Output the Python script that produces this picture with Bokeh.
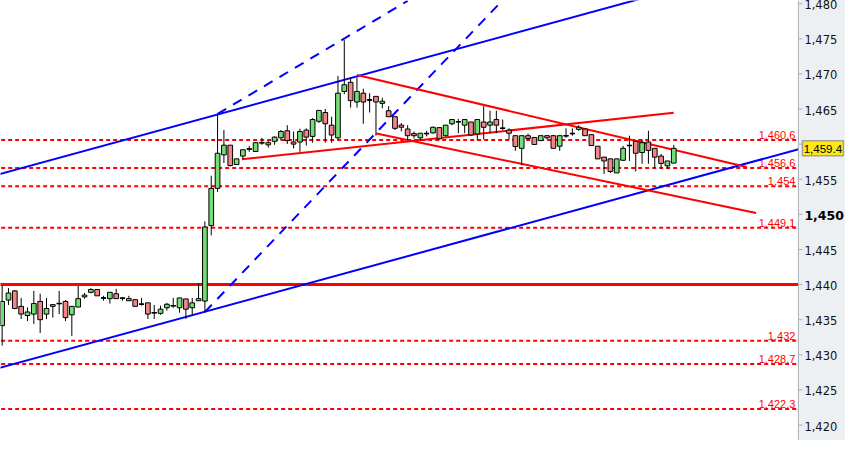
from bokeh.plotting import figure
from bokeh.models import Range1d, Span, ColumnDataSource
from bokeh.embed import file_html
from bokeh.resources import INLINE
from bokeh.core.properties import value

# ---------------- data ----------------
opens = [1434.15, 1437.8, 1439.1, 1436.9, 1435.6, 1435.8, 1437.6, 1435.8, 1436.9, 1437.3,
         1437.6, 1435.7, 1436.8, 1438.25, 1438.9, 1439.3, 1438.1, 1438.0, 1438.7, 1438.06,
         1437.7, 1437.85, 1437.2, 1437.4, 1436.0, 1435.9, 1436.7, 1437.0, 1436.7, 1437.96,
         1436.7, 1437.7, 1437.65, 1448.4, 1453.7, 1458.47, 1459.85, 1457.1, 1458.3, 1459.3,
         1458.95, 1460.2, 1459.9, 1460.4, 1460.9, 1461.9, 1460.3, 1460.3, 1462.0, 1461.1,
         1463.25, 1464.5, 1462.7, 1460.9, 1467.5, 1468.8, 1466.0, 1467.25, 1466.3, 1466.8,
         1465.8, 1464.75, 1463.9, 1462.7, 1462.15, 1461.5, 1460.9, 1461.5, 1461.6, 1462.35,
         1461.2, 1462.9, 1463.2, 1462.7, 1463.15, 1461.45, 1463.15, 1462.7, 1463.5, 1462.25,
         1462.0, 1461.2, 1459.4, 1461.2, 1460.95, 1460.5, 1461.2, 1461.2, 1459.7, 1461.2,
         1461.5, 1462.1, 1462.15, 1461.35, 1459.7, 1458.15, 1457.9, 1455.9, 1457.7, 1459.8,
         1460.4, 1458.8, 1460.3, 1459.4, 1458.3, 1456.9, 1457.3]
highs = [1439.9, 1439.5, 1439.2, 1438.1, 1436.75, 1439.1, 1438.7, 1438.1, 1437.15, 1439.1,
         1437.8, 1436.9, 1439.8, 1438.8, 1439.5, 1439.3, 1438.4, 1438.9, 1439.4, 1438.2,
         1438.4, 1437.85, 1438.1, 1437.4, 1437.1, 1437.0, 1437.4, 1438.1, 1438.1, 1437.96,
         1438.1, 1440.2, 1449.0, 1455.5, 1464.3, 1462.0, 1459.85, 1457.9, 1459.2, 1459.75,
         1460.2, 1460.9, 1460.5, 1461.1, 1462.0, 1462.7, 1461.8, 1462.2, 1462.25, 1463.7,
         1464.8, 1465.0, 1463.9, 1469.7, 1474.8, 1469.5, 1469.5, 1467.9, 1467.25, 1466.8,
         1466.6, 1465.4, 1463.9, 1463.0, 1462.7, 1461.8, 1461.55, 1461.9, 1462.5, 1462.35,
         1462.7, 1463.5, 1463.6, 1463.5, 1463.15, 1463.5, 1465.4, 1464.75, 1464.75, 1463.5,
         1462.25, 1461.2, 1461.2, 1461.5, 1460.95, 1461.2, 1461.3, 1461.3, 1461.2, 1462.25,
         1462.25, 1462.7, 1462.25, 1461.35, 1459.7, 1458.15, 1457.9, 1457.9, 1459.75, 1461.2,
         1460.4, 1460.65, 1461.9, 1459.4, 1458.6, 1457.6, 1459.9]
lows = [1431.3, 1437.1, 1436.5, 1435.1, 1434.8, 1434.4, 1433.1, 1435.1, 1435.3, 1435.8,
        1434.8, 1432.7, 1436.8, 1438.0, 1438.75, 1438.4, 1437.7, 1437.3, 1438.0, 1437.7,
        1437.7, 1436.9, 1437.0, 1435.1, 1435.1, 1435.7, 1436.3, 1436.7, 1436.0, 1435.1,
        1435.7, 1437.7, 1436.1, 1447.0, 1453.2, 1457.3, 1456.8, 1457.1, 1457.9, 1458.9,
        1458.95, 1459.9, 1459.5, 1459.9, 1460.5, 1460.0, 1459.4, 1458.9, 1459.8, 1460.2,
        1463.0, 1460.2, 1460.2, 1460.6, 1467.1, 1465.2, 1465.2, 1462.9, 1464.5, 1461.2,
        1465.1, 1463.9, 1462.0, 1461.8, 1460.6, 1460.8, 1460.55, 1461.1, 1461.5, 1460.65,
        1461.1, 1462.7, 1461.55, 1461.55, 1461.2, 1460.55, 1460.65, 1461.55, 1461.55, 1462.0,
        1460.65, 1459.05, 1457.0, 1460.65, 1459.95, 1460.5, 1460.65, 1459.4, 1459.05, 1460.9,
        1461.2, 1461.9, 1461.2, 1459.8, 1457.9, 1455.75, 1455.9, 1455.9, 1457.6, 1457.6,
        1456.1, 1457.2, 1457.2, 1456.55, 1456.55, 1456.45, 1457.3]
closes = [1437.6, 1438.8, 1436.6, 1435.8, 1436.1, 1437.3, 1435.0, 1436.6, 1437.15, 1437.3,
          1435.3, 1436.9, 1438.0, 1438.5, 1439.3, 1438.4, 1438.1, 1438.9, 1438.0, 1438.06,
          1438.0, 1436.9, 1437.2, 1435.8, 1436.0, 1436.5, 1437.2, 1437.0, 1438.1, 1436.5,
          1437.4, 1438.0, 1448.2, 1453.7, 1458.7, 1459.85, 1456.95, 1457.9, 1459.2, 1459.3,
          1460.2, 1460.2, 1460.2, 1461.0, 1461.8, 1460.5, 1460.0, 1461.8, 1461.0, 1463.5,
          1464.8, 1462.9, 1461.3, 1467.25, 1468.45, 1466.2, 1467.5, 1466.0, 1466.3, 1466.0,
          1466.1, 1463.9, 1462.25, 1462.4, 1461.2, 1461.2, 1461.55, 1461.5, 1462.4, 1460.75,
          1462.7, 1463.5, 1463.2, 1463.5, 1461.3, 1463.5, 1462.4, 1463.15, 1462.7, 1462.25,
          1461.55, 1459.65, 1461.2, 1460.8, 1459.95, 1461.2, 1460.9, 1459.4, 1461.2, 1461.2,
          1461.5, 1462.4, 1461.2, 1459.8, 1457.9, 1457.6, 1456.1, 1457.9, 1459.4, 1459.8,
          1458.7, 1460.2, 1459.1, 1458.15, 1457.25, 1457.6, 1459.4]

tick_values = [1420, 1425, 1430, 1435, 1440, 1445, 1450, 1455, 1460, 1465, 1470, 1475, 1480]
tick_labels = ["1,420", "1,425", "1,430", "1,435", "1,440", "1,445", "1,450",
               "1,455", "1,460", "1,465", "1,470", "1,475", "1,480"]
bold_tick = 1450

support_levels = [1460.6, 1456.6, 1454.0, 1448.1, 1432.0, 1428.7, 1422.3]
support_labels = ["1,460.6", "1,456.6", "1,454", "1,449.1", "1,432", "1,428.7", "1,422.3"]
base_level = 1440.0

# trend lines as (index, price) anchor pairs
blue_channel_upper = ([-1, 105], [1455.58, 1481.75])
blue_channel_lower = ([-1, 127], [1428.0, 1459.6])
blue_dash_upper = ([34, 64], [1464.3, 1480.4])
blue_dash_lower = ([32, 79], [1436.1, 1480.5])
red_upper = ([56, 117.5], [1469.85, 1456.73])
red_middle = ([37.84, 106], [1457.83, 1464.47])
red_lower = ([59.06, 119], [1461.52, 1450.18])

last_price_label = "1,459.4"

# ---------------- figure ----------------
W, H = 845, 440
X0, X1 = -0.26, 125.67            # price-area extent (index units)
XR = X0 + (X1 - X0) * 861 / 813   # includes the price-scale strip on the right
Y0, Y1 = 1417.8, 1480.45
ppu = W / (XR - X0)               # pixels per index unit
ppy = H / (Y1 - Y0)               # pixels per price unit

p = figure(width=W, height=H, output_backend="svg", toolbar_location=None,
           x_range=Range1d(X0, XR), y_range=Range1d(Y0, Y1),
           x_axis_location=None, y_axis_location=None,
           min_border_left=0, min_border_top=0, min_border_bottom=0, min_border_right=0)
p.grid.visible = False
p.outline_line_color = None
p.background_fill_color = "white"
p.border_fill_color = "white"

RED = "#ff0000"
BLUE = "#0000ff"
STRIP = "#edf0f3"
AXIS = "#a9b0b8"

# horizontal levels
nl = len(support_levels)
p.segment(x0=[X0 - 1] * nl, x1=[X1] * nl, y0=support_levels, y1=support_levels,
          line_color=RED, line_width=2, line_dash="4 3")
p.segment(x0=[X0 - 1], x1=[X1], y0=[base_level], y1=[base_level], line_color=RED, line_width=3)
p.text(x=[X1] * nl, y=support_levels, text=support_labels,
       text_align="right", text_baseline="bottom", x_offset=-3, y_offset=-1,
       text_color=RED, text_font=value("Liberation Sans"), text_font_size="11px")

# trend lines
for xs, ys in (blue_channel_upper, blue_channel_lower):
    p.line(xs, ys, line_color=BLUE, line_width=2)
for xs, ys in (blue_dash_upper, blue_dash_lower):
    p.line(xs, ys, line_color=BLUE, line_width=2, line_dash="10 8")
for xs, ys in (red_upper, red_middle, red_lower):
    p.line(xs, ys, line_color=RED, line_width=2)

# candles
n = len(opens)
idx = list(range(n))
src = ColumnDataSource(dict(
    x=idx, h=highs, l=lows,
    top=[max(a, b) for a, b in zip(opens, closes)],
    bot=[min(a, b) for a, b in zip(opens, closes)],
    col=["#74dd74" if c >= o else "#f28585" for o, c in zip(opens, closes)],
))
p.segment(x0="x", y0="h", x1="x", y1="l", source=src, line_color="black", line_width=1)
p.vbar(x="x", width=0.74, top="top", bottom="bot", source=src,
       fill_color="col", line_color="black", line_width=1)
doji = [i for i in idx if abs(opens[i] - closes[i]) < 0.08]
p.segment(x0=[i - 0.4 for i in doji], x1=[i + 0.4 for i in doji],
          y0=[opens[i] for i in doji], y1=[opens[i] for i in doji],
          line_color="black", line_width=1.5)

# price-scale strip on the right
p.quad(left=[X1], right=[XR + 1], bottom=[Y0 - 1], top=[Y1 + 1],
       fill_color=STRIP, line_color=None, level="annotation")
p.add_layout(Span(location=X1, dimension="height", line_color=AXIS, line_width=1,
                  level="overlay"))
nt = len(tick_values)
p.segment(x0=[X1] * nt, x1=[X1 + 4 / ppu] * nt, y0=tick_values, y1=tick_values,
          line_color=AXIS, line_width=1, level="overlay")
reg = [i for i in range(nt) if tick_values[i] != bold_tick]
p.text(x=[X1 + 6 / ppu] * len(reg), y=[tick_values[i] for i in reg],
       text=[tick_labels[i] for i in reg], text_baseline="middle", y_offset=1,
       text_font=value("DejaVu Sans"), text_font_size="11.5px", text_color="#111111",
       level="overlay")
bi = tick_values.index(bold_tick)
p.text(x=[X1 + 6 / ppu], y=[bold_tick], text=[tick_labels[bi]], text_baseline="middle",
       y_offset=1, text_font=value("DejaVu Sans"), text_font_size="12.5px",
       text_font_style="bold", text_color="black", level="overlay")

# last-price tag
last = closes[-1]
p.quad(left=[X1 + 4 / ppu], right=[X1 + 45 / ppu],
       bottom=[last - 7.5 / ppy], top=[last + 7.5 / ppy],
       fill_color="#ffe818", line_color="#a0a0a0", line_width=1.5, level="overlay")
p.text(x=[X1 + 24.5 / ppu], y=[last], text=[last_price_label], text_align="center",
       text_baseline="middle", y_offset=1,
       text_font=value("Liberation Sans"), text_font_size="11.5px", text_color="black",
       level="overlay")

open("out.html", "w").write(file_html(p, INLINE))
